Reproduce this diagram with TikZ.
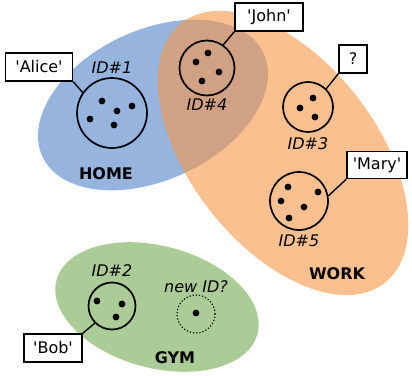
\documentclass[tikz,border=0pt]{standalone}
\usepackage{fontspec}
\setmainfont{DejaVu Sans}[Ligatures=TeXOff]
\usetikzlibrary{positioning}
\definecolor{homeblue}{RGB}{80,130,200}
\definecolor{workorange}{RGB}{247,150,70}
\definecolor{gymgreen}{RGB}{115,170,80}

\begin{document}
\begin{tikzpicture}[x=1pt,y=-1pt,
    font=\fontsize{16}{19}\selectfont,
    region/.style ={fill opacity=0.6},
    identity/.style ={circle, draw=black, line width=1.7pt, inner sep=0pt},
    new_identity/.style ={circle, draw=black, dotted, line width=1.2pt, inner sep=0pt},
    name_box/.style ={rectangle, draw=black, line width=1.5pt, fill=white,
      inner sep=0pt, minimum height=28pt},
    id_label/.style ={font=\fontsize{16}{19}\selectfont\itshape, inner sep=0pt},
    region_label/.style ={font=\fontsize{16}{19}\selectfont\bfseries, inner sep=0pt},
    line/.style ={draw, line width=1.4pt}]
    \useasboundingbox (0,0) rectangle (412,375);
    % the three places, drawn as see-through ellipses
    \fill[region, homeblue, rotate around={25:(153,105)}]
      (153,105) ellipse [x radius=122pt, y radius=75pt];
    \fill[region, workorange, rotate around={-52:(283,153)}]
      (283,153) ellipse [x radius=165pt, y radius=93pt];
    \fill[region, gymgreen, rotate around={-15:(157,307)}]
      (157,307) ellipse [x radius=104pt, y radius=61pt];
    \node [region_label] (home) at (106,174) {HOME};
    \node [region_label] (work) at (337,274) {WORK};
    \node [region_label] (gym) at (175,358) {GYM};
    % identities
    \node [identity, minimum size=70pt] (id1) at (112,113) {};
    \node [identity, minimum size=55pt] (id4) at (207,68) {};
    \node [identity, minimum size=50pt] (id3) at (308,107) {};
    \node [identity, minimum size=58pt] (id5) at (299,201) {};
    \node [identity, minimum size=47pt] (id2) at (112,306) {};
    \node [new_identity, minimum size=38pt] (new_id) at (196,314) {};
    \node [id_label, above=3pt of id1] (id1_label) {ID\#1};
    \node [id_label, below=2pt of id4] (id4_label) {ID\#4};
    \node [id_label, below=5pt of id3] (id3_label) {ID\#3};
    \node [id_label, below=4pt of id5] (id5_label) {ID\#5};
    \node [id_label, above=5pt of id2] (id2_label) {ID\#2};
    \node [id_label, above=1pt of new_id] (new_id_label) {new ID?};
    % dots inside the identities
    \foreach \p in {(102,101),(117,111),(132,106),(90,119),(114,125),
                    (208,53),(196,62),(219,72),(202,81),
                    (313,98),(300,108),(315,117),
                    (288,187),(318,192),(281,201),(304,207),(289,218),
                    (97,301),(122,304),(116,317),
                    (196,313)}
      \fill \p circle (3.4pt);
    % names and their links to the identities
    \node [name_box, minimum width=67pt] (alice) at (39,67) {'Alice'};
    \node [name_box, minimum width=68pt] (john) at (269,17) {'John'};
    \node [name_box, minimum width=28pt] (unknown) at (353,59) {?};
    \node [name_box, minimum width=60pt, minimum height=27pt] (mary) at (377,165) {'Mary'};
    \node [name_box, minimum width=58pt] (bob) at (53,348) {'Bob'};
    \path[line] (alice.south east) -- (id1.145);
    \path[line] (john.south west) -- (id4.55);
    \path[line] (unknown.south west) -- (id3.45);
    \path[line] (mary.south west) -- (id5.10);
    \path[line] (bob.north east) -- (id2.-135);
\end{tikzpicture}
\end{document}
